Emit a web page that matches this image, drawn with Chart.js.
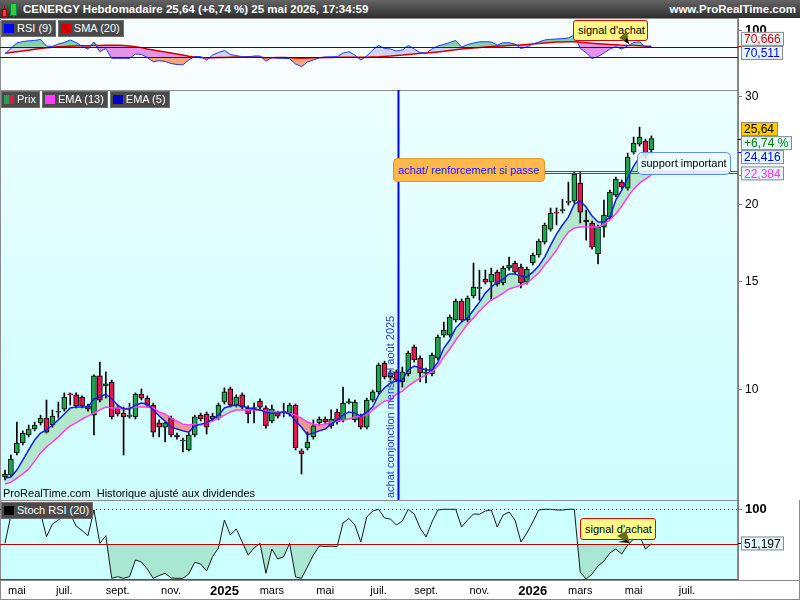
<!DOCTYPE html>
<html lang="fr">
<head>
<meta charset="utf-8">
<title>CENERGY Hebdomadaire</title>
<script src="https://cdn.jsdelivr.net/npm/chart.js@4.4.1/dist/chart.umd.min.js"></script>
<style>
  body { margin: 0; background: #fff; font-family: "Liberation Sans", Arial, sans-serif; }
  #wrap { position: relative; width: 800px; height: 600px; overflow: hidden; background: #fff; }
  #wrap canvas { position: absolute; left: 0; }
  #head { position: absolute; left: 0; top: 0; width: 800px; height: 18px; background: linear-gradient(#646464, #2e2e2e); color: #fff; font-weight: bold; font-size: 11.5px; line-height: 18px; }
  #head .t { position: absolute; left: 23px; top: 0; }
  #head .r { position: absolute; right: 4px; top: 0; }
  .tabs { position: absolute; left: 1px; display: flex; gap: 2px; }
  .tab { height: 15px; line-height: 15px; background: #4a4a4a; color: #fff; font-size: 11px; padding: 0 3px 0 2px; border: 1px solid #707070; white-space: nowrap; }
  .sq { display: inline-block; width: 10px; height: 9px; margin-right: 3px; vertical-align: -1px; }
  .note { position: absolute; font-size: 11px; white-space: nowrap; box-sizing: border-box; }
  svg { position: absolute; left: 0; top: 0; }
</style>
</head>
<body>
<div id="wrap">
  <canvas id="rsi" width="800" height="72" style="top:18px"></canvas>
  <canvas id="price" width="800" height="410" style="top:90px"></canvas>
  <canvas id="stoch" width="800" height="100" style="top:500px"></canvas>

  <div id="head">
    <div style="position:absolute;left:4px;top:6px;width:1px;height:11px;background:#900"></div>
    <div style="position:absolute;left:2px;top:9px;width:3px;height:6px;background:#e8404a;border:1px solid #900"></div>
    <div style="position:absolute;left:13px;top:1px;width:1px;height:16px;background:#084"></div>
    <div style="position:absolute;left:10px;top:3px;width:5px;height:11px;background:#3c3;border:1px solid #084"></div>
    <span class="t">CENERGY Hebdomadaire 25,64 (+6,74 %) 25 mai 2026, 17:34:59</span>
    <span class="r">www.ProRealTime.com</span>
  </div>

  <div class="tabs" style="top:20px">
    <div class="tab"><span class="sq" style="background:#0000ff"></span>RSI (9)</div>
    <div class="tab"><span class="sq" style="background:#d40000"></span>SMA (20)</div>
  </div>
  <div class="tabs" style="top:91px">
    <div class="tab"><span class="sq" style="width:5px;background:#1fa34f"></span><span class="sq" style="width:5px;margin-left:-3px;background:#e3174c"></span>Prix</div>
    <div class="tab"><span class="sq" style="background:#ff3cff"></span>EMA (13)</div>
    <div class="tab"><span class="sq" style="background:#0000c8"></span>EMA (5)</div>
  </div>
  <div class="tabs" style="top:502px">
    <div class="tab"><span class="sq" style="background:#000"></span>Stoch RSI (20)</div>
  </div>

  <div class="note" style="left:3px;top:487px;color:#000">ProRealTime.com&nbsp; Historique ajusté aux dividendes</div>

  <div class="note" style="left:393px;top:158px;width:152px;height:24px;line-height:22px;background:#ffb84a;border:1px solid #e09a30;border-radius:4px;color:#1a1aff;padding-left:4px">achat/ renforcement si passe</div>
  <div class="note" style="left:637px;top:152px;width:94px;height:23px;line-height:21px;background:rgba(236,251,255,0.85);border:1px solid #5f8fff;border-radius:5px;color:#000;padding-left:3px">support important</div>
  <div class="note" style="left:573px;top:20px;width:75px;height:21px;line-height:19px;background:#ffff88;border:1px solid #e00000;border-radius:3px;color:#000;padding-left:4px">signal d'achat</div>
  <div class="note" style="left:580px;top:518px;width:76px;height:22px;line-height:20px;background:#ffff88;border:1px solid #e00000;border-radius:3px;color:#000;padding-left:4px">signal d'achat</div>
  <svg width="800" height="600">
    <polygon points="619,38 627,31 629,44" fill="#6b6b10"/>
    <polygon points="624,41 629,44 627,38" fill="#000"/>
    <polygon points="617,536 626,531 630,543" fill="#6b6b10"/>
    <polygon points="618,542 630,543 626,540" fill="#000"/>
  </svg>
</div>

<script>
// weekly candles, monday of each week
var weeks = [
  "2024-04-22","2024-04-29","2024-05-06","2024-05-13","2024-05-20","2024-05-27","2024-06-03","2024-06-10","2024-06-17","2024-06-24",
  "2024-07-01","2024-07-08","2024-07-15","2024-07-22","2024-07-29","2024-08-05","2024-08-12","2024-08-19","2024-08-26","2024-09-02",
  "2024-09-09","2024-09-16","2024-09-23","2024-09-30","2024-10-07","2024-10-14","2024-10-21","2024-10-28","2024-11-04","2024-11-11",
  "2024-11-18","2024-11-25","2024-12-02","2024-12-09","2024-12-16","2024-12-23","2024-12-30","2025-01-06","2025-01-13","2025-01-20",
  "2025-01-27","2025-02-03","2025-02-10","2025-02-17","2025-02-24","2025-03-03","2025-03-10","2025-03-17","2025-03-24","2025-03-31",
  "2025-04-07","2025-04-14","2025-04-21","2025-04-28","2025-05-05","2025-05-12","2025-05-19","2025-05-26","2025-06-02","2025-06-09",
  "2025-06-16","2025-06-23","2025-06-30","2025-07-07","2025-07-14","2025-07-21","2025-07-28","2025-08-04","2025-08-11","2025-08-18",
  "2025-08-25","2025-09-01","2025-09-08","2025-09-15","2025-09-22","2025-09-29","2025-10-06","2025-10-13","2025-10-20","2025-10-27",
  "2025-11-03","2025-11-10","2025-11-17","2025-11-24","2025-12-01","2025-12-08","2025-12-15","2025-12-22","2025-12-29","2026-01-05",
  "2026-01-12","2026-01-19","2026-01-26","2026-02-02","2026-02-09","2026-02-16","2026-02-23","2026-03-02","2026-03-09","2026-03-16",
  "2026-03-23","2026-03-30","2026-04-06","2026-04-13","2026-04-20","2026-04-27","2026-05-04","2026-05-11","2026-05-18","2026-05-25"
];

var opens = [
  7.22,7.27,7.90,8.20,8.45,8.64,8.84,9.00,8.77,9.20, 9.31,9.86,9.82,9.74,9.42,9.10,10.54,10.15,10.30,9.35,
  9.17,9.06,9.04,9.85,9.70,9.45,8.84,8.70,9.00,8.45, 8.26,7.99,8.45,9.10,9.14,8.97,9.00,9.56,10.04,9.45,
  9.82,9.35,9.33,9.59,9.35,8.90,9.17,9.20,9.17,9.45, 7.96,8.05,8.39,8.84,8.97,8.74,9.21,8.94,9.54,8.94,
  9.07,8.70,9.63,9.93,11.06,10.50,10.70,10.31,10.62,11.75, 11.27,10.64,10.62,11.27,12.28,12.28,13.00,13.95,13.00,14.22,
  14.63,15.15,14.98,15.55,14.93,15.79,16.09,15.85,14.98,16.09, 16.58,17.40,18.27,19.47,19.58,20.19,20.29,21.70,18.90,18.69,
  16.64,18.41,19.11,20.75,21.79,21.30,24.38,25.11,25.40,24.60
];
var highs = [
  7.41,7.84,8.87,8.58,8.77,8.87,9.10,9.63,9.28,9.56, 9.89,9.89,9.89,9.78,9.49,10.58,11.10,10.70,10.38,9.45,
  9.38,9.52,9.89,10.04,9.78,9.52,8.94,8.87,9.07,8.51, 8.35,8.51,9.10,9.17,9.21,9.17,9.52,10.08,10.11,9.82,
  9.89,9.42,9.52,9.67,9.42,9.45,9.24,9.52,9.52,9.49, 8.02,8.54,8.94,9.04,9.04,9.28,9.31,10.11,9.67,9.63,
  9.14,9.70,10.00,11.06,11.14,10.78,10.78,10.90,11.57,11.84, 11.36,10.86,11.48,12.28,12.90,13.24,14.06,14.06,14.22,16.09,
  15.67,15.67,15.79,15.67,15.91,16.45,16.21,16.03,15.85,16.70, 17.60,18.69,19.77,19.77,20.44,21.79,22.62,22.62,19.62,18.83,
  18.55,20.37,21.14,22.20,21.95,24.29,25.79,26.77,25.59,25.90
];
var lows = [
  7.14,7.22,7.84,8.14,8.39,8.58,8.77,8.51,8.70,9.00, 9.24,9.45,9.35,9.35,9.24,8.45,9.56,9.70,8.97,9.07,
  7.84,9.00,8.97,9.63,9.38,8.39,8.39,8.23,8.39,8.32, 7.93,7.96,8.39,8.90,8.48,8.90,8.94,9.49,9.38,9.38,
  9.31,8.84,8.84,9.31,8.67,8.84,9.00,9.04,9.07,7.99, 7.30,7.99,8.32,8.77,8.80,8.67,8.80,8.87,9.49,8.87,
  8.64,8.64,9.56,9.85,10.42,10.38,10.31,10.11,10.54,11.10, 10.31,10.27,10.54,11.19,12.19,12.19,12.90,12.90,12.90,14.11,
  14.01,14.87,14.01,14.76,14.82,15.67,15.44,14.65,14.87,15.97, 16.45,17.27,18.13,18.55,19.40,19.99,20.14,18.69,17.53,16.95,
  16.03,17.73,18.97,20.60,21.22,21.14,24.19,24.93,23.76,24.20
];
var closes = [
  7.30,7.72,8.20,8.51,8.64,8.77,9.00,8.54,9.07,9.22, 9.74,9.82,9.42,9.42,9.31,10.54,9.63,10.23,9.04,9.14,
  9.04,9.08,9.85,9.70,9.45,8.54,8.70,8.84,8.45,8.39, 8.29,8.45,9.04,8.97,8.70,9.07,9.45,9.93,9.45,9.74,
  9.38,9.14,9.36,9.38,8.74,9.31,9.07,9.22,9.45,8.05, 7.87,8.23,8.74,8.97,8.87,8.97,8.87,9.52,9.57,9.56,
  8.70,9.63,9.93,10.98,10.50,10.66,10.38,10.70,11.48,11.19, 10.66,10.68,11.40,12.19,12.52,13.14,13.95,13.00,14.11,14.70,
  14.67,14.98,15.44,14.87,15.79,15.97,15.55,14.93,15.73,16.58, 17.47,18.55,19.40,19.40,19.62,20.25,22.45,19.47,18.76,17.08,
  18.41,19.26,20.99,22.03,21.38,23.92,25.21,25.79,24.02,25.64
];
var ema5 = [
  7.19,7.22,7.41,7.69,7.99,8.29,8.51,8.61,8.77,8.94, 9.14,9.35,9.38,9.38,9.38,9.67,9.74,9.85,9.67,9.45,
  9.31,9.31,9.45,9.52,9.49,9.28,9.07,8.90,8.70,8.64, 8.58,8.54,8.74,8.80,8.84,8.97,9.10,9.35,9.42,9.45,
  9.42,9.35,9.31,9.28,9.21,9.17,9.17,9.21,9.14,8.90, 8.70,8.45,8.51,8.58,8.64,8.80,8.94,9.10,9.21,9.17,
  9.07,9.21,9.38,9.82,10.08,10.27,10.34,10.38,10.78,10.94, 10.86,10.78,10.78,11.10,11.70,12.06,12.61,12.90,13.10,13.49,
  13.90,14.38,14.70,14.98,15.15,15.44,15.44,15.32,15.26,15.55, 15.91,16.45,17.21,17.93,18.55,19.11,20.06,20.29,19.84,19.18,
  18.76,18.76,19.11,20.37,21.14,22.12,23.13,23.92,24.10,24.416
];
var ema13 = [
  7.03,7.08,7.19,7.30,7.44,7.66,7.90,8.08,8.23,8.39, 8.58,8.74,8.84,8.97,9.07,9.17,9.28,9.38,9.35,9.35,
  9.31,9.35,9.38,9.38,9.38,9.35,9.21,9.14,9.00,8.90, 8.80,8.77,8.80,8.77,8.84,8.90,9.00,9.10,9.21,9.28,
  9.28,9.28,9.28,9.28,9.24,9.21,9.21,9.21,9.17,9.10, 9.00,8.87,8.80,8.77,8.80,8.87,8.90,8.94,8.97,9.04,
  9.07,9.10,9.28,9.45,9.59,9.63,9.85,9.96,10.15,10.31, 10.46,10.58,10.70,10.94,11.32,11.66,12.06,12.42,12.80,13.10,
  13.44,13.75,14.01,14.17,14.38,14.60,14.70,14.82,14.93,15.21, 15.50,15.97,16.39,16.89,17.53,18.07,18.34,18.41,18.41,18.41,
  18.41,18.62,18.90,19.33,19.91,20.60,21.22,21.70,22.03,22.384
];
var rsi9 = [
  56.2,66.6,77,79.8,81.1,81.9,83.6,71.3,70.4,75.1, 77.9,82.6,77.9,70.9,65.1,78.9,60.6,66.6,48.1,48.1,
  48.1,48.1,56.2,55.3,49.6,41.7,43.6,42.1,38.3,36.4, 35.8,44.9,51.5,51.5,44.9,54.3,59.1,62.8,55.3,53.4,
  50.9,50.6,52.5,52.5,43,49.6,48.1,48.1,47.2,37.4, 32.3,41.1,44.9,49.1,50.6,50.9,51.1,58.1,60.6,54.3,
  44.9,52.5,63.8,72.3,66.6,65.7,61.9,63.8,72.3,65.7, 58.7,57.7,65.7,71.3,74.2,77.9,81.7,69.4,74.2,77,
  79.2,79.4,78.9,73.2,77.5,77.5,75.1,66.6,69.4,75.1, 78.9,82.6,84,84.5,85.3,86.4,92,67,58.5,47.7,
  51.5,58.1,65.7,70,65.7,71.3,77.9,79.4,68.5,70.511
];
var smaRsi = [
  57.5,59,60.5,62,63.5,65,66.5,68,69,69.8, 70.5,71,71.3,71.6,71.9,72.2,72.5,72.8,73,73,
  72.4,71.3,70,68.3,65.5,63.6,61.8,60,58.3,56.3, 54.3,52.2,50.4,49.6,49.2,49.4,49.6,49.8,50,50.4,
  50.6,50.9,50.6,50,49.4,49.4,49.8,49.8,49.2,48.5, 48.3,48.7,49.1,49.2,49.6,49.8,50,50,50,50,
  50,50,50.6,50.9,51.7,52.3,53.4,54.3,55.5,56.4, 57.5,58.3,59.2,60.2,61.3,62.8,64.2,65.5,66.6,67.4,
  68.7,69.4,70.2,70.9,71.5,72.1,72.6,73.2,74,74.9, 76,77,77.9,78.9,79.1,79.2,79.4,78.5,77.5,76.6,
  75.7,74.9,74.2,73.6,73,72.5,72.1,71.7,71.1,70.666
];
var stochRsi = [
  51.4,91.9,99,99,100,99,94.7,60.9,79,84.7, 91.9,93.3,76.1,69.7,62.3,99,51.4,62.3,1.4,3.7,
  1.4,3.7,27.6,24.7,14.7,1.4,5.4,8.6,1.9,1.4, 1.4,7.6,24.3,21.9,11.9,32.3,44.7,84.7,63.3,71.9,
  53.3,34.7,44.7,51.4,8.6,43.3,29,32.3,51.4,3.3, 1.4,17.6,34.7,47.6,46.9,47.3,46.6,80.4,86.9,77.6,
  53.3,89,97.6,100,87.6,86.1,77.6,83.3,100,93.3, 73.3,60.4,81.9,99,100,100,100,74.7,84.7,93.3,
  92.9,97.6,99,74.7,91.9,96.1,84.7,53.3,66.1,81.9, 99,100,100,99,99,100,100,10,0.4,7.6,
  19,26,37.6,43.3,36.1,49,57.6,61.9,43.3,51.197
];

var priceTicks = [10, 15, 20, 30];
var monthTickIdx = [2, 10, 19, 28, 37, 45, 54, 63, 71, 80, 89, 97, 106, 115];
var monthTickLabels = ["mai", "juil.", "sept.", "nov.", "2025", "mars", "mai", "juil.", "sept.", "nov.", "2026", "mars", "mai", "juil."];
var supportLevels = [22.75, 22.55];
var signalWeek = 66.35; // 1er août 2025

var XMIN = -0.84, XMAX = 123.6;
var FONT = '"Liberation Sans", Arial, sans-serif';

Chart.defaults.font.family = FONT;
Chart.defaults.font.size = 11;
Chart.defaults.color = "#000";
Chart.defaults.animation = false;
Chart.defaults.elements.point.radius = 0;
Chart.defaults.elements.point.hoverRadius = 0;
Chart.defaults.elements.line.tension = 0;
Chart.defaults.plugins.legend.display = false;
Chart.defaults.plugins.tooltip.enabled = false;

function pts(arr) {
  return arr.map(function (v, i) { return { x: i, y: v }; });
}
var none = "rgba(0,0,0,0)";

function xHidden() {
  return { type: "linear", min: XMIN, max: XMAX, offset: false, display: false };
}
function rightAxis(min, max, ticks, type, font) {
  return {
    type: type || "linear",
    position: "right",
    min: min,
    max: max,
    grid: { drawOnChartArea: false, drawTicks: true, tickLength: 4, color: "#808080" },
    border: { color: "#808080" },
    ticks: { padding: 3, color: "#000", font: font || { size: 12 }, autoSkip: false, callback: function (v) { return String(v); } },
    afterBuildTicks: function (s) { s.ticks = ticks.map(function (v) { return { value: v }; }); },
    afterFit: function (s) { s.width = 62; s.paddingTop = 0; s.paddingBottom = 0; }
  };
}

function background(fill) {
  return {
    id: "bg",
    beforeDraw: function (chart) {
      var ctx = chart.ctx, a = chart.chartArea;
      ctx.save();
      ctx.fillStyle = "#fff";
      ctx.fillRect(0, 0, chart.width, chart.height);
      var f = fill;
      if (Array.isArray(fill)) {
        f = ctx.createLinearGradient(0, a.top, 0, a.bottom);
        f.addColorStop(0, fill[0]);
        f.addColorStop(1, fill[1]);
      }
      ctx.fillStyle = f;
      ctx.fillRect(a.left, a.top, a.right - a.left, a.bottom - a.top);
      ctx.strokeStyle = "#8c8c8c";
      ctx.lineWidth = 1;
      ctx.strokeRect(a.left + 0.5, a.top + 0.5, a.right - a.left - 1, a.bottom - a.top);
      ctx.restore();
    }
  };
}

function refLines(lines) {
  return {
    id: "refs",
    afterDatasetsDraw: function (chart) {
      var ctx = chart.ctx, a = chart.chartArea, y = chart.scales.y;
      ctx.save();
      lines.forEach(function (l) {
        var py = Math.round(y.getPixelForValue(l.v)) + 0.5;
        ctx.strokeStyle = l.color;
        ctx.lineWidth = 1;
        ctx.setLineDash(l.dash || []);
        ctx.beginPath();
        ctx.moveTo(a.left, py);
        ctx.lineTo(a.right, py);
        ctx.stroke();
      });
      ctx.restore();
    }
  };
}

function tag(ctx, x, y, text, color, bg) {
  ctx.font = "12px " + FONT;
  var w = Math.ceil(ctx.measureText(text).width) + 6;
  ctx.fillStyle = bg;
  ctx.fillRect(x, y - 7, w, 14);
  ctx.strokeStyle = "#8a8a8a";
  ctx.lineWidth = 1;
  ctx.strokeRect(x + 0.5, y - 6.5, w - 1, 13);
  ctx.fillStyle = color;
  ctx.textAlign = "left";
  ctx.textBaseline = "middle";
  ctx.fillText(text, x + 3, y + 1);
}
function fr(v, d) { return v.toFixed(d).replace(".", ","); }
function mark(ctx, x, y, color) {
  ctx.strokeStyle = color;
  ctx.lineWidth = 1;
  ctx.beginPath();
  ctx.moveTo(x, Math.round(y) + 0.5);
  ctx.lineTo(x + 5, Math.round(y) + 0.5);
  ctx.stroke();
}

var last = weeks.length - 1;

// ---------- RSI (9) + SMA (20)
new Chart(document.getElementById("rsi"), {
  type: "line",
  data: {
    datasets: [
      { data: pts(rsi9), borderColor: "#1f3cff", borderWidth: 1, fill: false },
      { data: pts(smaRsi), borderColor: "#d40000", borderWidth: 1.5, fill: false },
      { data: pts(rsi9.map(function (v) { return Math.max(v, 70); })), borderColor: none, borderWidth: 0, fill: { target: 5, above: "#7fd3a6", below: none } },
      { data: pts(rsi9.map(function (v) { return Math.min(v, 50); })), borderColor: none, borderWidth: 0, fill: { target: 6, above: none, below: "#f1a77b" } },
      { data: pts(rsi9), borderColor: none, borderWidth: 0, fill: { target: 1, above: "#cfd3f0", below: "#e494e8" } },
      { data: pts(smaRsi.map(function (v) { return Math.max(v, 70); })), borderColor: none, borderWidth: 0, fill: false },
      { data: pts(smaRsi.map(function (v) { return Math.min(v, 50); })), borderColor: none, borderWidth: 0, fill: false }
    ]
  },
  options: {
    responsive: false,
    layout: { padding: 0 },
    scales: {
      x: xHidden(),
      y: rightAxis(-11.7, 124.2, [100], "linear", { size: 13, weight: "bold" })
    }
  },
  plugins: [
    background("#f7fdff"),
    refLines([{ v: 70, color: "#0000ff" }, { v: 50, color: "#0000ff" }]),
    {
      id: "rsiTags",
      afterDraw: function (chart) {
        var ctx = chart.ctx, a = chart.chartArea, y = chart.scales.y;
        ctx.save();
        mark(ctx, a.right, y.getPixelForValue(smaRsi[last]), "#d40000");
        tag(ctx, a.right + 3, y.getPixelForValue(smaRsi[last]) - 7.5, fr(smaRsi[last], 3), "#e00000", "#e4f7fb");
        tag(ctx, a.right + 3, y.getPixelForValue(rsi9[last]) + 6.5, fr(rsi9[last], 3), "#0000ff", "#e4f7fb");
        ctx.restore();
      }
    }
  ]
});

// ---------- Prix + EMA (13) + EMA (5)
var candleColors = closes.map(function (c, i) { return c >= opens[i] ? "#1fa34f" : "#e3174c"; });

new Chart(document.getElementById("price"), {
  type: "bar",
  data: {
    datasets: [
      { type: "line", data: pts(ema5), borderColor: "#1020e0", borderWidth: 1.5, fill: false },
      { type: "line", data: pts(ema13), borderColor: "#ff3cff", borderWidth: 1.5, fill: false },
      {
        type: "bar",
        data: weeks.map(function (w, i) { return { x: i, y: [opens[i], closes[i]] }; }),
        backgroundColor: candleColors, borderColor: "#000", borderWidth: 1, borderSkipped: false,
        barThickness: 5, grouped: false, minBarLength: 1
      },
      {
        type: "bar",
        data: weeks.map(function (w, i) { return { x: i, y: [lows[i], highs[i]] }; }),
        backgroundColor: "#000", borderWidth: 0, barThickness: 1, grouped: false
      },
      { type: "line", data: pts(ema5), borderColor: none, borderWidth: 0, fill: { target: 1, above: "#b3e9cb", below: "#eb9797" } }
    ]
  },
  options: {
    responsive: false,
    layout: { padding: 0 },
    scales: {
      x: xHidden(),
      y: rightAxis(6.623, 30.76, priceTicks, "logarithmic")
    }
  },
  plugins: [
    background(["#ecffff", "#cdfdfd"]),
    {
      id: "priceMarks",
      afterDatasetsDraw: function (chart) {
        var ctx = chart.ctx, a = chart.chartArea, x = chart.scales.x, y = chart.scales.y;
        ctx.save();
        ctx.strokeStyle = "#2e6e1e";
        ctx.lineWidth = 1;
        supportLevels.forEach(function (v) {
          var py = Math.round(y.getPixelForValue(v)) + 0.5;
          ctx.beginPath();
          ctx.moveTo(x.getPixelForValue(88.7), py);
          ctx.lineTo(a.right, py);
          ctx.stroke();
        });
        var vx = x.getPixelForValue(signalWeek);
        ctx.strokeStyle = "#0000ff";
        ctx.lineWidth = 2;
        ctx.beginPath();
        ctx.moveTo(vx, a.top);
        ctx.lineTo(vx, a.bottom);
        ctx.stroke();
        ctx.translate(vx - 4, a.bottom - 2);
        ctx.rotate(-Math.PI / 2);
        ctx.fillStyle = "#2a3dd6";
        ctx.font = "11px " + FONT;
        ctx.textAlign = "left";
        ctx.textBaseline = "alphabetic";
        ctx.fillText("achat conjonction mensuel août 2025", 0, 0);
        ctx.restore();
      },
      afterDraw: function (chart) {
        var ctx = chart.ctx, a = chart.chartArea, y = chart.scales.y;
        var pc = closes[last], pct = (closes[last] / closes[last - 1] - 1) * 100;
        var yc = y.getPixelForValue(pc);
        ctx.save();
        mark(ctx, a.right, yc, "#000");
        mark(ctx, a.right, y.getPixelForValue(ema5[last]), "#0000ff");
        mark(ctx, a.right, y.getPixelForValue(ema13[last]), "#ff33ff");
        tag(ctx, a.right + 3, yc - 9.5, fr(pc, 2), "#000", "#ffcc00");
        tag(ctx, a.right + 3, yc + 4.5, "+" + fr(pct, 2) + " %", "#008000", "#e4f7fb");
        tag(ctx, a.right + 3, y.getPixelForValue(ema5[last]) + 5.5, fr(ema5[last], 3), "#0000ff", "#e4f7fb");
        tag(ctx, a.right + 3, y.getPixelForValue(ema13[last]) - 1.5, fr(ema13[last], 3), "#ff33ff", "#e4f7fb");
        ctx.restore();
      }
    }
  ]
});

// ---------- Stoch RSI (20)
var yearIdx = monthTickIdx.filter(function (v, i) { return /^\d{4}$/.test(monthTickLabels[i]); });

new Chart(document.getElementById("stoch"), {
  type: "line",
  data: {
    datasets: [
      { data: pts(stochRsi), borderColor: "#1a1a1a", borderWidth: 1, fill: { target: { value: 50 }, above: none, below: "#a9e7d3" } }
    ]
  },
  options: {
    responsive: false,
    layout: { padding: 0 },
    scales: {
      x: {
        type: "linear", min: XMIN, max: XMAX, offset: false,
        grid: { display: false, drawTicks: false },
        border: { display: false },
        ticks: {
          autoSkip: false, maxRotation: 0, padding: 4, color: "#000",
          font: function (c) {
            return c.tick && yearIdx.indexOf(c.tick.value) >= 0 ? { size: 13, weight: "bold" } : { size: 11 };
          },
          callback: function (v) { var k = monthTickIdx.indexOf(v); return k >= 0 ? monthTickLabels[k] : ""; }
        },
        afterBuildTicks: function (s) { s.ticks = monthTickIdx.map(function (v) { return { value: v }; }); },
        afterFit: function (s) { s.height = 20; s.paddingLeft = 0; s.paddingRight = 0; }
      },
      y: rightAxis(-1, 113.3, [100], "linear", { size: 13, weight: "bold" })
    }
  },
  plugins: [
    background("#ccffff"),
    refLines([
      { v: 100, color: "#333", dash: [1, 3] },
      { v: 50, color: "#c00000" },
      { v: 0, color: "#0050ff" }
    ]),
    {
      id: "stochTags",
      afterDraw: function (chart) {
        var ctx = chart.ctx, a = chart.chartArea, y = chart.scales.y;
        ctx.save();
        mark(ctx, a.right, y.getPixelForValue(stochRsi[last]), "#000");
        tag(ctx, a.right + 3, y.getPixelForValue(stochRsi[last]), fr(stochRsi[last], 3), "#000", "#e4f7fb");
        ctx.strokeStyle = "#8c8c8c";
        ctx.beginPath();
        ctx.moveTo(0, a.bottom + 0.5);
        ctx.lineTo(chart.width, a.bottom + 0.5);
        ctx.moveTo(0.5, a.bottom);
        ctx.lineTo(0.5, chart.height);
        ctx.moveTo(chart.width - 0.5, 0);
        ctx.lineTo(chart.width - 0.5, chart.height);
        ctx.moveTo(0, chart.height - 0.5);
        ctx.lineTo(chart.width, chart.height - 0.5);
        ctx.stroke();
        ctx.restore();
      }
    }
  ]
});
</script>
</body>
</html>
